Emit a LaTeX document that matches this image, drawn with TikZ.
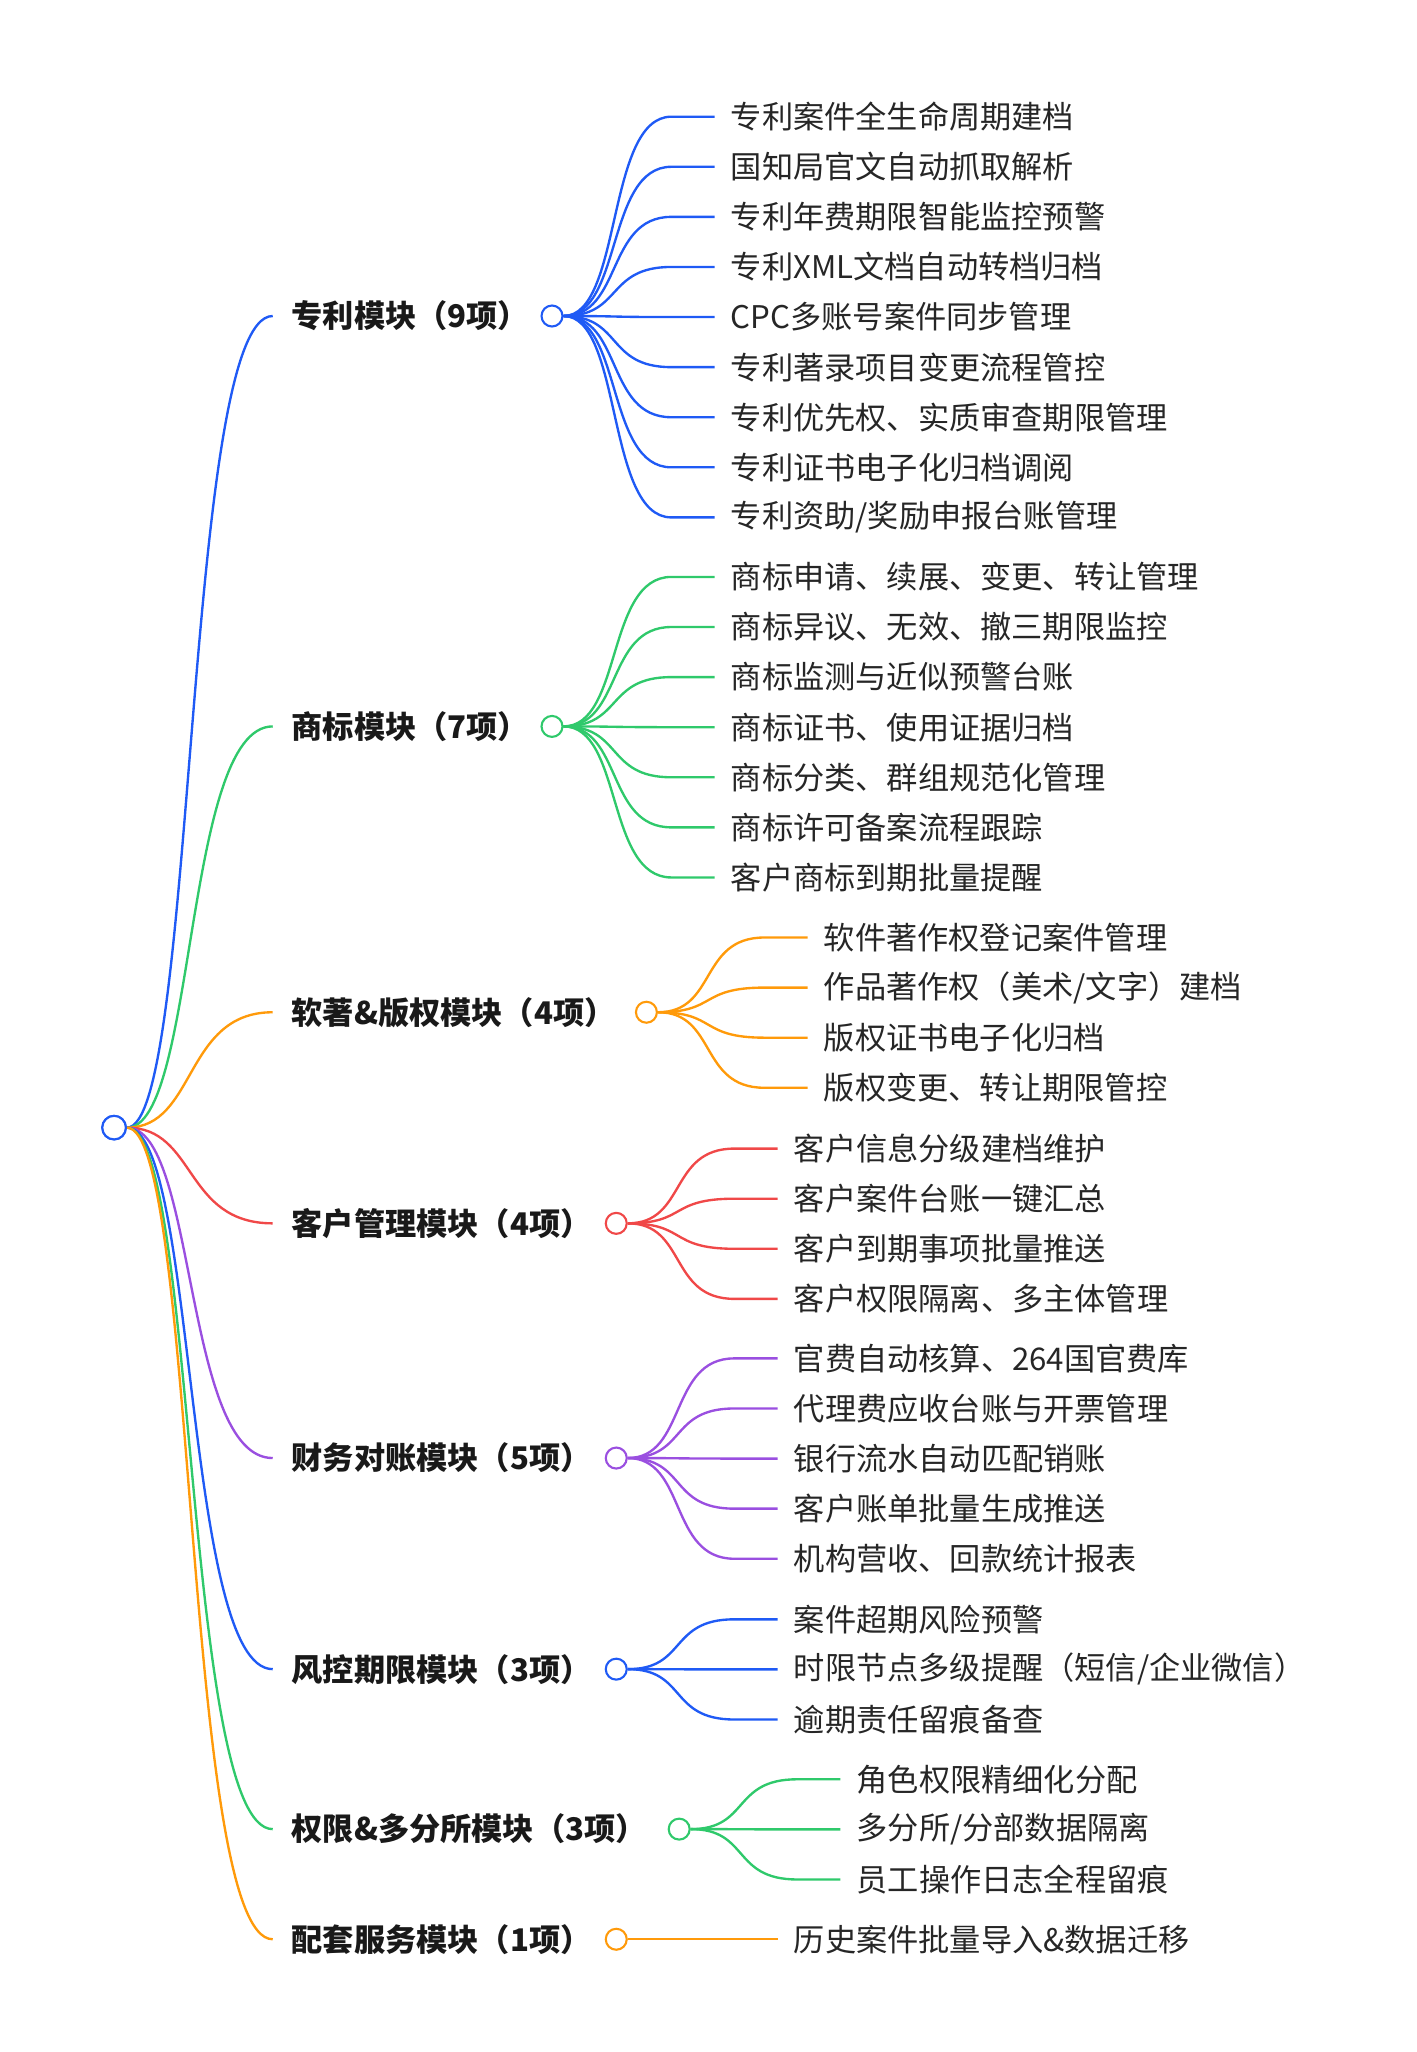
\documentclass[tikz,border=0pt]{standalone}
\usepackage{fontspec}
\setmainfont{Noto Sans CJK SC}
\usetikzlibrary{calc}
\definecolor{cb}{HTML}{1F5AF5}
\definecolor{cg}{HTML}{2FC96B}
\definecolor{co}{HTML}{FF9A0A}
\definecolor{cr}{HTML}{F04848}
\definecolor{cp}{HTML}{9A4FE0}
\begin{document}
\begin{tikzpicture}[x=0.5pt,y=-0.5pt,
  mod/.style={anchor=west,font=\fontsize{11.9}{13}\selectfont\bfseries,inner sep=0pt,text=black!90},
  lf/.style={anchor=west,font=\fontsize{11.9}{13}\selectfont,inner sep=0pt,text=black!85},
  dot/.style={circle,draw=#1,fill=white,line width=0.8pt,minimum size=8pt,inner sep=0pt},
  br/.style={draw=#1,line width=0.9pt}]
\useasboundingbox (0,0) rectangle (1080,1565);
\node[dot=cb,minimum size=9pt] (root) at (87,860) {};
\newcommand\mymod[8]{%
  \node[mod] (m#1) at (222,#4) {#3};
  \draw[br=#2] (root) .. controls (150,860) and (140,#4) .. ($(m#1.west)+(-14,0)$);
  \node[dot=#2] (c#1) at (#5,#4) {};
  \foreach \t [count=\i] in {#8}{%
    \pgfmathsetmacro\yy{#7+38.2*(\i-1)}
    \node[lf] (l#1-\i) at (#6,\yy) {\t};
    \draw[br=#2] (c#1.east) .. controls ($(c#1.east)+(45,0)$) and ($(l#1-\i.west)+(-95,0)$) .. ($(l#1-\i.west)+(-45,0)$) -- ($(l#1-\i.west)+(-12,0)$);
  }}
\mymod{1}{cb}{专利模块（9项）}{241}{421}{557}{89}{专利案件全生命周期建档,国知局官文自动抓取解析,专利年费期限智能监控预警,专利XML文档自动转档归档,CPC多账号案件同步管理,专利著录项目变更流程管控,专利优先权、实质审查期限管理,专利证书电子化归档调阅,专利资助/奖励申报台账管理}
\mymod{2}{cg}{商标模块（7项）}{554}{421}{557}{440}{商标申请、续展、变更、转让管理,商标异议、无效、撤三期限监控,商标监测与近似预警台账,商标证书、使用证据归档,商标分类、群组规范化管理,商标许可备案流程跟踪,客户商标到期批量提醒}
\mymod{3}{co}{软著\&版权模块（4项）}{772}{493}{628}{715}{软件著作权登记案件管理,作品著作权（美术/文字）建档,版权证书电子化归档,版权变更、转让期限管控}
\mymod{4}{cr}{客户管理模块（4项）}{933}{470}{605}{876}{客户信息分级建档维护,客户案件台账一键汇总,客户到期事项批量推送,客户权限隔离、多主体管理}
\mymod{5}{cp}{财务对账模块（5项）}{1112}{470}{605}{1036}{官费自动核算、264国官费库,代理费应收台账与开票管理,银行流水自动匹配销账,客户账单批量生成推送,机构营收、回款统计报表}
\mymod{6}{cb}{风控期限模块（3项）}{1273}{470}{605}{1235}{案件超期风险预警,时限节点多级提醒（短信/企业微信）,逾期责任留痕备查}
\mymod{7}{cg}{权限\&多分所模块（3项）}{1395}{518}{653}{1357}{角色权限精细化分配,多分所/分部数据隔离,员工操作日志全程留痕}
\mymod{8}{co}{配套服务模块（1项）}{1479}{470}{605}{1479}{历史案件批量导入\&数据迁移}
\node[dot=cb,minimum size=9pt] at (root) {};
\end{tikzpicture}
\end{document}
